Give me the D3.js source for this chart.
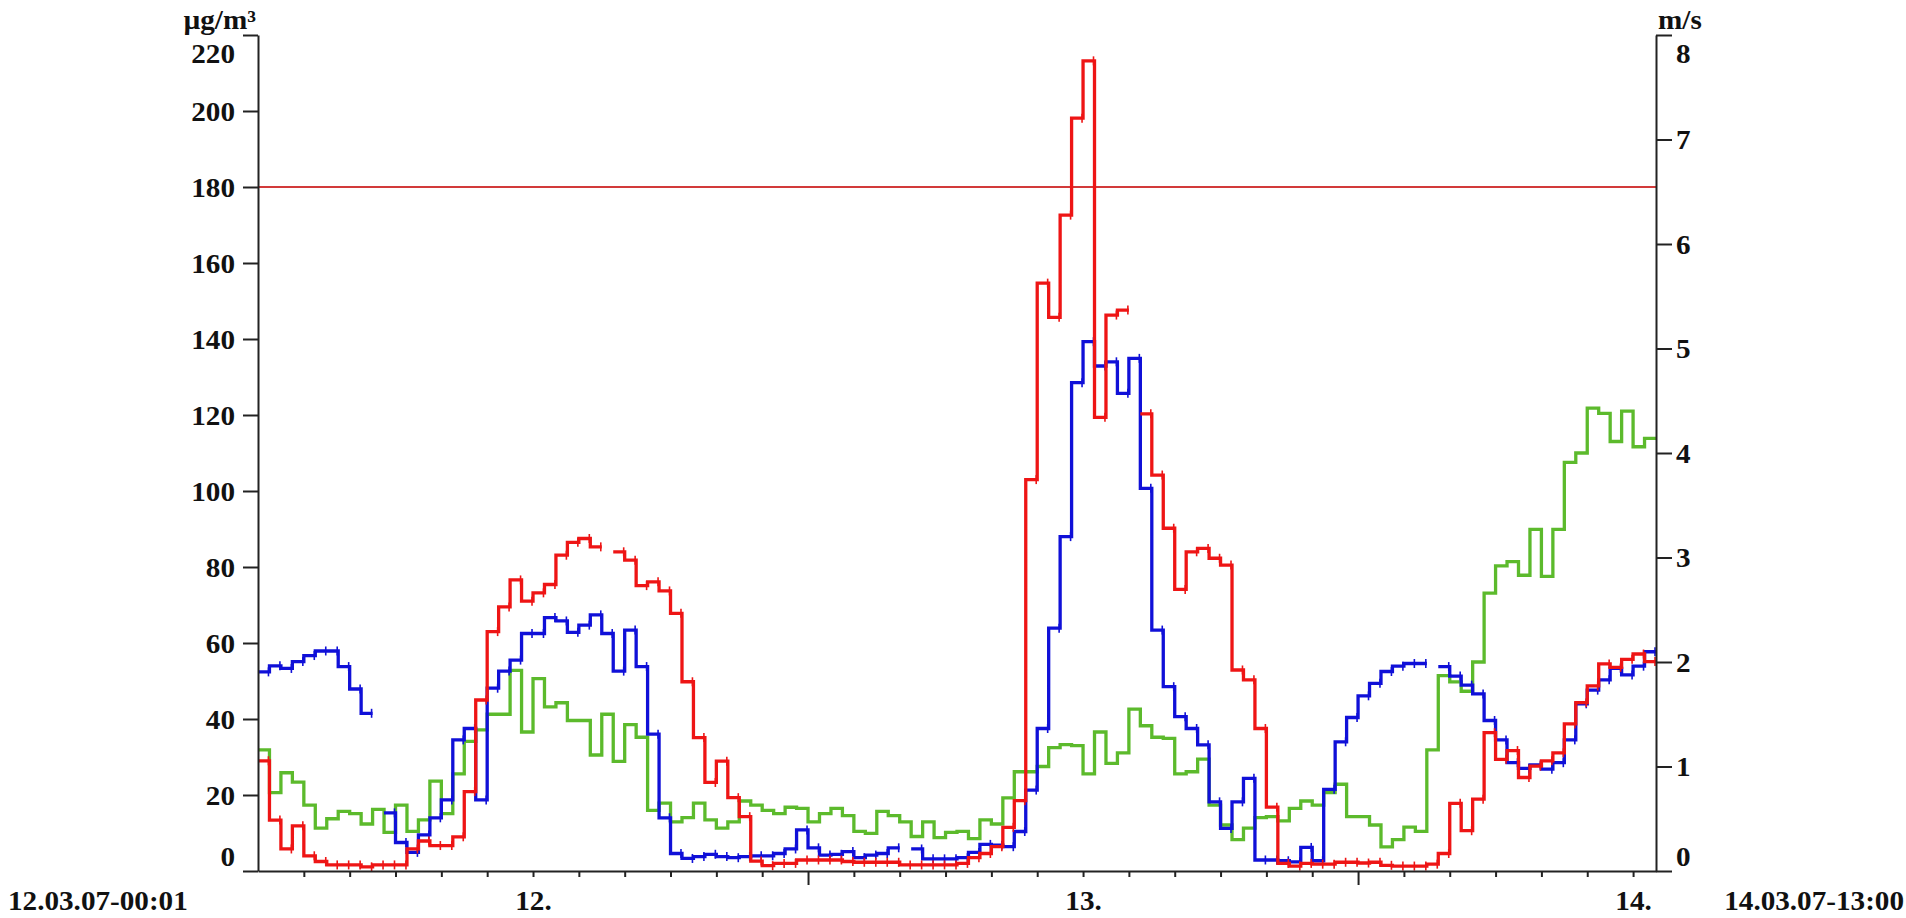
<!DOCTYPE html>
<html>
<head>
<meta charset="utf-8">
<script src="https://cdn.jsdelivr.net/npm/d3@7"></script>
<style>
  html, body { margin: 0; padding: 0; background: #ffffff; }
  svg { display: block; }
  text { font-family: "Liberation Serif", "Times New Roman", serif; font-weight: bold; fill: #111; }
</style>
</head>
<body>
<svg id="chart" width="1906" height="918"></svg>
<script>
// ---------------- DATA ----------------
const startTime = new Date(2007, 2, 12, 0, 0);
const endTime = new Date(2007, 2, 14, 13, 0);
const stepMinutes = 30;

// red series, µg/m³ (half-hourly)
const redValues = [
  29, 13.4, 5.8, 11.9, 4.0, 2.5, 1.6, 1.6, 1.6, 1.1,
  1.6, 1.6, 1.6, 5.8, 7.9, 6.7, 6.7, 9.0, 20.9, 45,
  63, 69.5, 76.6, 71, 73.2, 75.4, 83.1, 86.5, 87.5, 85.3,
  null, 84.0, 81.8, 75.1, 76.1, 73.7, 67.8, 49.8, 35.1, 23.3,
  28.9, 19.3, 14.3, 2.6, 1.4, 2.0, 2.0, 2.9, 2.9, 2.9,
  2.9, 2.5, 2.3, 2.3, 2.3, 2.3, 1.6, 1.6, 1.6, 1.6,
  1.6, 2.0, 3.5, 4.6, 6.4, 11.5, 18.5, 103, 154.7, 145.7,
  172.6, 198.1, 213.2, 119.4, 146.3, 147.6, null, 120.3, 104.2, 90.2,
  74.1, 84.0, 84.9, 82.3, 80.5, 52.9, 50.3, 37.5, 16.8, 2.0,
  1.3, 2.0, 1.8, 1.8, 2.3, 2.3, 2.1, 2.3, 1.5, 1.3,
  1.3, 1.3, 1.8, 4.6, 17.8, 10.6, 18.9, 36.4, 29.4, 31.7,
  24.6, 27.6, 29.0, 31.1, 38.7, 44.3, 48.7, 54.5, 53.6, 55.7,
  57.1, 55.1
];

// blue series, µg/m³ (half-hourly)
const blueValues = [
  52.4, 54.0, 53.3, 55.1, 56.7, 57.9, 57.9, 53.8, 47.9, 41.5,
  null, 15.3, 7.5, 4.9, 9.5, 14.0, 18.7, 34.5, 37.5, 18.7,
  48.1, 52.6, 55.5, 62.5, 62.5, 66.7, 65.8, 62.8, 64.7, 67.4,
  62.5, 52.6, 63.4, 53.8, 36.0, 14.0, 4.6, 3.3, 3.8, 4.4,
  3.8, 3.5, 3.8, 4.0, 4.0, 4.6, 5.8, 10.8, 6.1, 4.2,
  4.4, 5.1, 3.5, 4.2, 4.6, 6.1, null, 5.8, 3.2, 3.2,
  3.2, 3.5, 4.9, 7.0, 6.8, 6.4, 10.4, 21.3, 37.5, 63.9,
  88.0, 128.5, 139.3, 132.9, 134.0, 125.7, 134.9, 100.7, 63.4, 48.5,
  40.6, 37.5, 33.2, 18.2, 11.2, 18.2, 24.4, 2.9, 2.9, 2.7,
  2.4, 6.2, 2.7, 21.5, 34.0, 40.4, 46.1, 49.4, 52.5, 53.9,
  54.6, 54.6, null, 53.8, 51.3, 48.9, 46.6, 39.6, 34.5, 28.5,
  27.0, 27.9, 26.8, 28.5, 34.5, 44.0, 47.6, 50.3, 53.3, 51.6,
  53.9, 57.7
];

// green series, m/s (half-hourly, right axis)
const greenValues = [
  1.16, 0.75, 0.94, 0.85, 0.63, 0.41, 0.50, 0.57, 0.55, 0.45,
  0.59, 0.37, 0.63, 0.38, 0.49, 0.86, 0.55, 0.93, 1.24, 1.35,
  1.50, 1.50, 1.92, 1.33, 1.84, 1.57, 1.61, 1.44, 1.44, 1.11,
  1.50, 1.05, 1.40, 1.28, 0.58, 0.65, 0.47, 0.51, 0.65, 0.49,
  0.41, 0.47, 0.67, 0.63, 0.58, 0.55, 0.61, 0.60, 0.47, 0.55,
  0.60, 0.53, 0.38, 0.36, 0.57, 0.53, 0.47, 0.33, 0.47, 0.32,
  0.37, 0.38, 0.31, 0.49, 0.45, 0.70, 0.95, 0.95, 1.00, 1.18,
  1.21, 1.20, 0.93, 1.33, 1.03, 1.13, 1.55, 1.39, 1.28, 1.27,
  0.93, 0.95, 1.07, 0.63, 0.44, 0.30, 0.41, 0.51, 0.52, 0.48,
  0.60, 0.67, 0.63, 0.75, 0.83, 0.52, 0.52, 0.44, 0.23, 0.30,
  0.42, 0.38, 1.16, 1.87, 1.81, 1.72, 2.00, 2.66, 2.92, 2.96,
  2.83, 3.27, 2.82, 3.27, 3.91, 4.00, 4.43, 4.38, 4.11, 4.40,
  4.06, 4.14
];

const thresholdValue = 180;
const leftTicks = [0, 20, 40, 60, 80, 100, 120, 140, 160, 180, 200, 220];
const rightTicks = [0, 1, 2, 3, 4, 5, 6, 7, 8];
const dayLabels = ["12.", "13.", "14."];
const dayLabelTimes = [new Date(2007, 2, 12, 12), new Date(2007, 2, 13, 12), new Date(2007, 2, 14, 12)];
const startLabel = "12.03.07-00:01";
const endLabel = "14.03.07-13:00";
const leftUnit = "µg/m³";
const rightUnit = "m/s";

// ---------------- LAYOUT ----------------
const L = 258, R = 1656, T = 35, B = 871;
const FS = 27, SX = 1.08;
const BASE = 910;
const svg = d3.select("#chart");

const x = d3.scaleTime().domain([startTime, endTime]).range([L, R]);
const yL = d3.scaleLinear().domain([0, 220]).range([B, T]);
const yR = d3.scaleLinear().domain([0, 8]).range([B, T]);

function styleText(sel) {
  sel.attr("font-size", FS).attr("font-weight", "bold")
     .attr("font-family", "'Liberation Serif', 'Times New Roman', serif")
     .attr("fill", "#111");
}
function label(txt, px, py, anchor) {
  svg.append("text")
    .attr("transform", `translate(${px},${py}) scale(${SX},1)`)
    .attr("text-anchor", anchor)
    .text(txt)
    .call(styleText);
}

// threshold line
svg.append("line")
  .attr("x1", L).attr("x2", R)
  .attr("y1", yL(thresholdValue)).attr("y2", yL(thresholdValue))
  .attr("stroke", "#d23a3a").attr("stroke-width", 2);

// ---------------- SERIES ----------------
function stepPoints(values) {
  const pts = [];
  values.forEach((v, i) => {
    const a = d3.timeMinute.offset(startTime, stepMinutes * i);
    const b = d3.timeMinute.offset(startTime, stepMinutes * (i + 1));
    pts.push({ t: a, v: v, i: i });
    pts.push({ t: b, v: v, i: i });
  });
  return pts;
}

function drawSeries(values, yScale, color, markers) {
  const line = d3.line()
    .defined(d => d.v !== null)
    .x(d => x(d.t))
    .y(d => yScale(d.v));
  svg.append("path")
    .datum(stepPoints(values))
    .attr("d", line)
    .attr("fill", "none")
    .attr("stroke", color)
    .attr("stroke-width", 3.3)
    .attr("stroke-linejoin", "miter");
  if (markers) {
    const ends = values.map((v, i) => ({ t: d3.timeMinute.offset(startTime, stepMinutes * (i + 1)), v: v }))
      .filter(d => d.v !== null);
    svg.append("g").selectAll("line").data(ends).join("line")
      .attr("x1", d => x(d.t) - 1).attr("x2", d => x(d.t) - 1)
      .attr("y1", d => yScale(d.v) - 4.5).attr("y2", d => yScale(d.v) + 4.5)
      .attr("stroke", color).attr("stroke-width", 1.6);
  }
}

drawSeries(greenValues, yR, "#5cba2c", false);
drawSeries(blueValues, yL, "#1010d8", true);
drawSeries(redValues, yL, "#ee1515", true);

// ---------------- AXES ----------------
const axisColor = "#222";

// bottom axis (2-hour ticks)
const tickTimes = d3.timeHour.every(2).range(d3.timeHour.offset(startTime, 2), d3.timeHour.offset(endTime, 0));
const gx = svg.append("g").attr("transform", `translate(0,${B})`)
  .call(d3.axisBottom(x).tickValues(tickTimes).tickSize(6).tickSizeOuter(0).tickFormat(""));
gx.selectAll(".tick line")
  .attr("y2", d => (d.getHours() === 0 ? 14 : 6));
gx.selectAll("line, path").attr("stroke", axisColor).attr("stroke-width", 2);

// day labels (second axis without lines)
const gxl = svg.append("g").attr("transform", `translate(0,${B})`)
  .call(d3.axisBottom(x).tickValues(dayLabelTimes).tickSize(0).tickPadding(0)
        .tickFormat((d, i) => dayLabels[i]));
gxl.select(".domain").remove();
gxl.selectAll(".tick text")
  .attr("y", 0).attr("dy", 0)
  .attr("transform", `translate(0,${BASE - B}) scale(${SX},1)`)
  .call(styleText);

// left axis
const gl = svg.append("g").attr("transform", `translate(${L},0)`)
  .call(d3.axisLeft(yL).tickValues(leftTicks).tickSize(15).tickSizeOuter(0));
gl.selectAll("line, path").attr("stroke", axisColor).attr("stroke-width", 2);
gl.selectAll(".tick text")
  .attr("x", -23 / SX).attr("dy", "0.34em")
  .attr("transform", d => {
    const shift = d === 220 ? 18 : (d === 0 ? -15 : 0);
    return `translate(0,${shift}) scale(${SX},1)`;
  })
  .call(styleText);

// right axis
const gr = svg.append("g").attr("transform", `translate(${R},0)`)
  .call(d3.axisRight(yR).tickValues(rightTicks).tickSize(16).tickSizeOuter(0));
gr.selectAll("line, path").attr("stroke", axisColor).attr("stroke-width", 2);
gr.selectAll(".tick text")
  .attr("x", 20 / SX).attr("dy", "0.34em")
  .attr("transform", d => {
    const shift = d === 8 ? 18 : (d === 0 ? -15 : 0);
    return `translate(0,${shift}) scale(${SX},1)`;
  })
  .call(styleText);

// units
label(leftUnit, 256, 29, "end");
label(rightUnit, 1658, 29, "start");

// corner labels
label(startLabel, 8, BASE, "start");
label(endLabel, 1904, BASE, "end");
</script>
</body>
</html>
